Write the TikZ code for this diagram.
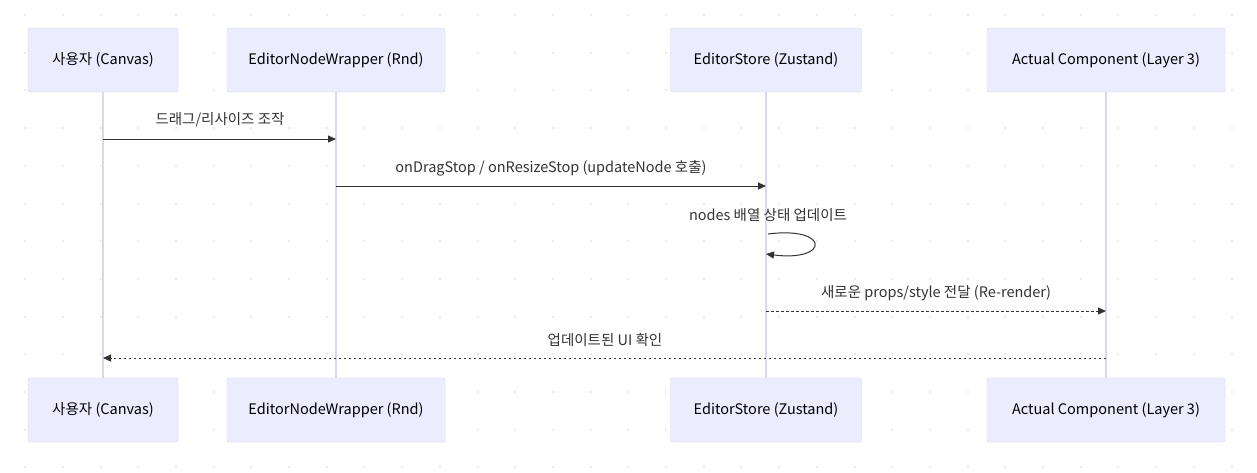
\documentclass[tikz,border=0pt]{standalone}
\usepackage{fontspec}
\setmainfont{Noto Sans CJK KR}
\usetikzlibrary{arrows.meta}
\definecolor{boxfill}{HTML}{ECECFF}
\definecolor{boxdraw}{HTML}{D6D2F5}
\definecolor{life}{HTML}{DCD6F2}
\definecolor{msg}{HTML}{333333}
\tikzset{
 actor/.style={draw=boxdraw,fill=boxfill,rounded corners=2pt,minimum height=64pt,inner sep=0pt,font=\fontsize{14.5}{16}\selectfont,text=black},
 lifeline/.style={draw=life,line width=1.3pt},
 msgline/.style={draw=msg,line width=1pt,-{Triangle[length=8pt,width=7pt]}},
 reply/.style={msgline,dash pattern=on 2.5pt off 2.5pt},
 lbl/.style={font=\fontsize{14.5}{16}\selectfont,text=msg,inner sep=0pt}
}
\begin{document}
\begin{tikzpicture}[x=1pt,y=-1pt]
\useasboundingbox (0,0) rectangle (1257,472);
\fill[white] (0,0) rectangle (1257,472);
\foreach \i in {0,...,33}{\foreach \j in {0,...,12}{
 \fill[black!8] ({25.1+37.7*\i-1},{15+37.7*\j-1}) rectangle ++(2,2);}}
\foreach \n/\x/\w/\t in {a/103/150/{사용자 (Canvas)},b/336/218/{EditorNodeWrapper (Rnd)},c/766/191/{EditorStore (Zustand)},d/1106/238/{Actual Component (Layer 3)}}{
 \draw[lifeline] (\x,92) -- (\x,378);
 \node[actor,minimum width=\w pt] (\n t) at (\x,60) {\t};
 \node[actor,minimum width=\w pt] (\n b) at (\x,410) {\t};
}
\coordinate (a1) at (103,139); \coordinate (b1) at (336,139);
\coordinate (b2) at (336,186); \coordinate (c2) at (766,186);
\coordinate (c3) at (768,234); \coordinate (c4) at (766,254);
\coordinate (c5) at (766,311); \coordinate (d5) at (1106,311);
\coordinate (d6) at (1106,358); \coordinate (a6) at (103,358);
\draw[msgline] (a1) -- (b1);
\node[lbl] at (220,120) {드래그/리사이즈 조작};
\draw[msgline] (b2) -- (c2);
\node[lbl] at (551,168) {onDragStop / onResizeStop (updateNode 호출)};
\draw[msgline] (c3) .. controls (830,226) and (830,262) .. (c4);
\node[lbl] at (768,215) {nodes 배열 상태 업데이트};
\draw[reply] (c5) -- (d5);
\node[lbl] at (936,293) {새로운 props/style 전달 (Re-render)};
\draw[reply] (d6) -- (a6);
\node[lbl] at (605,340) {업데이트된 UI 확인};
\end{tikzpicture}
\end{document}
